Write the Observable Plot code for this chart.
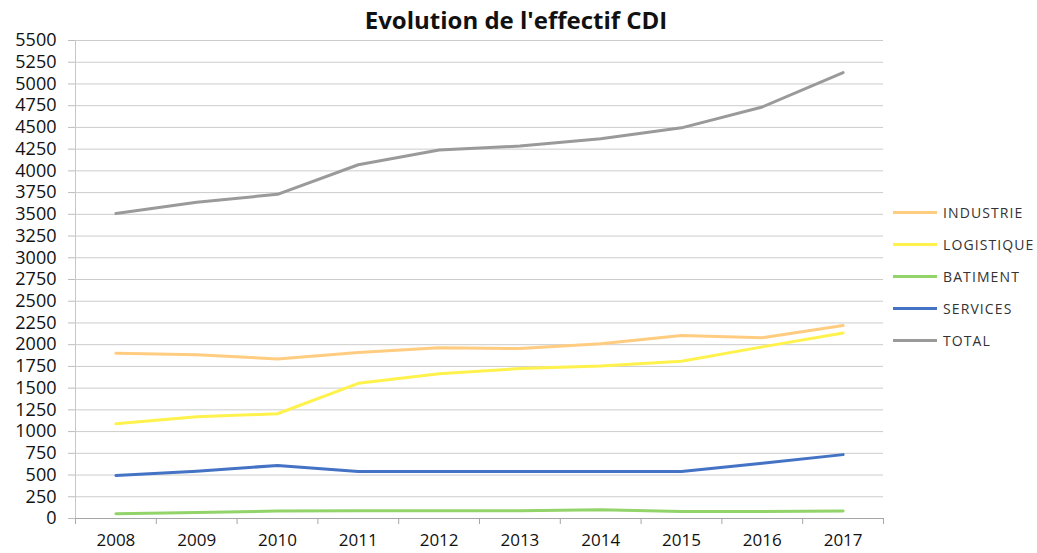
<!DOCTYPE html>
<html><head><meta charset="utf-8">
<script src="https://cdn.jsdelivr.net/npm/d3@7"></script>
<script src="https://cdn.jsdelivr.net/npm/@observablehq/plot@0.6"></script>
<style>
body{margin:0;background:#fff;}
#wrap{position:relative;width:1037px;height:553px;font-family:"Open Sans",sans-serif;overflow:hidden;}
#chart{position:absolute;left:0;top:0;}
#chart svg{overflow:visible;}
#title{position:absolute;left:0;width:1032px;top:5px;text-align:center;font-weight:bold;font-size:24px;line-height:30px;color:#111;}
#legend{position:absolute;left:893px;top:196px;}
.row{display:flex;align-items:center;height:32.2px;}
.sw{width:44px;height:3px;margin-right:6px;}
.lab{font-size:14px;letter-spacing:1.1px;color:#333;}
</style></head>
<body>
<div id="wrap"><div id="chart"></div><div id="title">Evolution de l'effectif CDI</div><div id="legend"></div></div>
<script>
const years = [2008, 2009, 2010, 2011, 2012, 2013, 2014, 2015, 2016, 2017];
const seriesNames = ["INDUSTRIE", "LOGISTIQUE", "BATIMENT", "SERVICES", "TOTAL"];
const seriesColors = ["#FFCC80", "#FFF24D", "#92D36A", "#4472C4", "#9A9A9A"];
const industrie  = [1900, 1885, 1835, 1910, 1965, 1955, 2010, 2105, 2080, 2220];
const logistique = [1090, 1170, 1205, 1555, 1665, 1725, 1755, 1810, 1975, 2135];
const batiment   = [55, 70, 85, 90, 90, 90, 100, 80, 80, 85];
const services   = [495, 545, 610, 540, 540, 540, 540, 540, 635, 735];
const total      = [3510, 3640, 3730, 4070, 4240, 4285, 4370, 4495, 4735, 5130];
const yTicks = d3.range(0, 5501, 250);

const seriesValues = [industrie, logistique, batiment, services, total];
const data = [];
seriesNames.forEach((s, i) => years.forEach((y, j) => data.push({series: s, year: y, value: seriesValues[i][j]})));
const bounds = d3.range(years[0] - 0.5, years[years.length - 1] + 1, 1);

const plot = Plot.plot({
  width: 1037, height: 553,
  marginLeft: 75, marginRight: 154, marginTop: 40, marginBottom: 35,
  style: {fontFamily: "'Open Sans', sans-serif", background: "#fff", color: "#111"},
  x: {type: "linear", domain: [years[0] - 0.5, years[years.length - 1] + 0.5]},
  y: {domain: [0, 5500]},
  color: {domain: seriesNames, range: seriesColors},
  marks: [
    Plot.gridY(yTicks, {stroke: "#cccccc", strokeOpacity: 1, strokeWidth: 1}),
    Plot.ruleX([bounds[0]], {stroke: "#c8c8c8", strokeWidth: 1}),
    Plot.ruleY([0], {stroke: "#a6a6a6", strokeWidth: 1}),
    Plot.axisY({ticks: yTicks, tickSize: 7, tickPadding: 12, fontSize: 18, tickFormat: d => String(d), stroke: "#bdbdbd", fill: "#111", label: null}),
    Plot.axisX({ticks: bounds, tickSize: 6, tickFormat: () => "", stroke: "#a6a6a6", label: null}),
    Plot.axisX({ticks: years, tickSize: 0, tickPadding: 15, fontSize: 17, tickFormat: d => String(d), fill: "#111", label: null}),
    Plot.line(data, {x: "year", y: "value", z: "series", stroke: "series", strokeWidth: 3, strokeLinejoin: "round"})
  ]
});
document.getElementById("chart").appendChild(plot);

const leg = document.getElementById("legend");
seriesNames.forEach((s, i) => {
  const r = document.createElement("div"); r.className = "row";
  const sw = document.createElement("span"); sw.className = "sw"; sw.style.background = seriesColors[i];
  const lb = document.createElement("span"); lb.className = "lab"; lb.textContent = s;
  r.appendChild(sw); r.appendChild(lb); leg.appendChild(r);
});
</script>
</body></html>
